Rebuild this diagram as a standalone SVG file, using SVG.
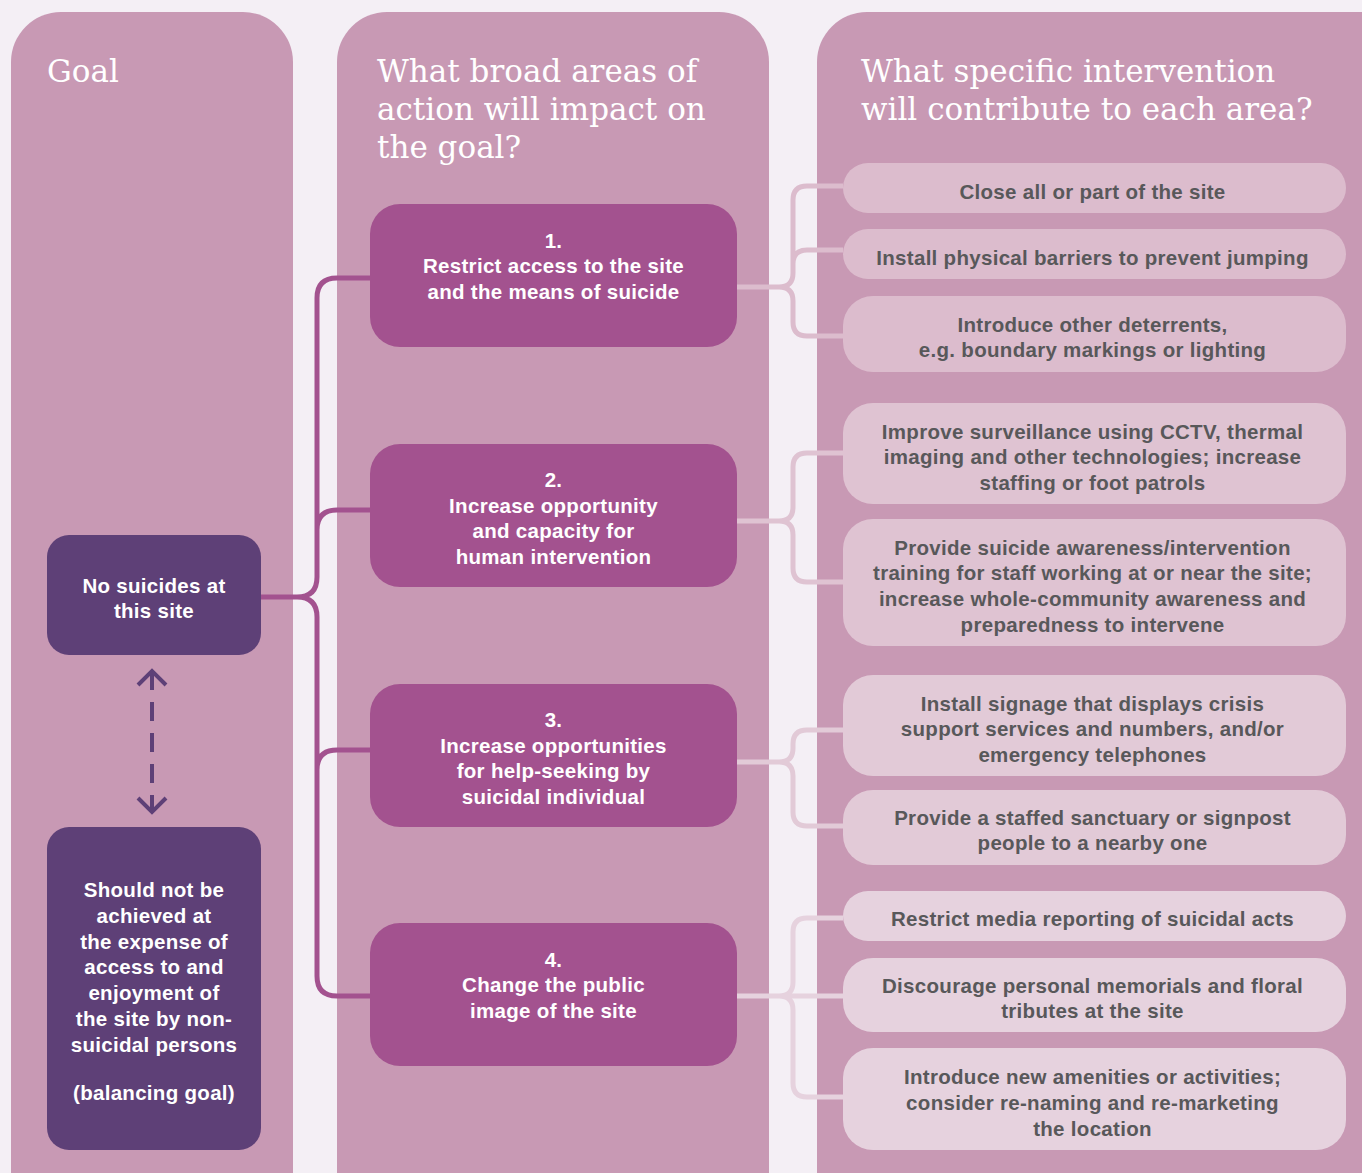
<svg xmlns="http://www.w3.org/2000/svg" width="1362" height="1173" viewBox="0 0 1362 1173">
<style>
.col{fill:#c899b4}
.hdr{font-family:"DejaVu Serif","Liberation Serif",serif;font-size:31px;fill:#ffffff}
.t{font-family:"Liberation Sans",Arial,sans-serif;font-weight:bold;font-size:20.5px;letter-spacing:0.3px;text-anchor:middle}
.w{fill:#ffffff}
.g{fill:#58585a}
.goal{fill:#5e4077}
.area{fill:#a3528f}
.i1{fill:#dcbccd}
.i2{fill:#dfc3d2}
.i3{fill:#e2cad7}
.i4{fill:#e6d2de}
.lc{fill:none;stroke:#a3528f;stroke-width:5}
.rc{fill:none;stroke-width:5}
</style>
<defs>
<marker id="chev" viewBox="-20 -20 24 40" markerWidth="24" markerHeight="40" refX="0" refY="0" orient="auto-start-reverse" markerUnits="userSpaceOnUse">
<path d="M-14,-14 L0,0 L-14,14" fill="none" stroke="#5e4077" stroke-width="4"/>
</marker>
</defs>
<rect width="1362" height="1173" fill="#f4eff5"/>
<g id="columns">
<rect class="col" x="11" y="12" width="282" height="1250" rx="50"/>
<rect class="col" x="337" y="12" width="432" height="1250" rx="50"/>
<rect class="col" x="817" y="12" width="600" height="1250" rx="50"/>
<text class="hdr" x="47" y="82">Goal</text>
<text class="hdr" x="377" y="82">What broad areas of</text>
<text class="hdr" x="377" y="120">action will impact on</text>
<text class="hdr" x="377" y="158">the goal?</text>
<text class="hdr" x="861" y="82">What specific intervention</text>
<text class="hdr" x="861" y="120">will contribute to each area?</text>
</g>
<g id="connectors">
<path class="lc" d="M261,597 H297 Q317,597 317,577 V298 Q317,278 337,278 H370 M297,597 Q317,597 317,617 V976 Q317,996 337,996 H370 M317,530 Q317,510 337,510 H370 M317,770 Q317,750 337,750 H370"/>
<path class="rc" stroke="#dcbccd" d="M737,287 H779 Q793,287 793,273 V200 Q793,186 807,186 H843 M779,287 Q793,287 793,301 V322 Q793,336 807,336 H843 M793,264 Q793,250 807,250 H843"/>
<path class="rc" stroke="#dfc3d2" d="M737,521 H779 Q793,521 793,507 V467 Q793,453 807,453 H843 M779,521 Q793,521 793,535 V568 Q793,582 807,582 H843"/>
<path class="rc" stroke="#e2cad7" d="M737,762 H779 Q793,762 793,748 V744 Q793,730 807,730 H843 M779,762 Q793,762 793,776 V812 Q793,826 807,826 H843"/>
<path class="rc" stroke="#e6d2de" d="M737,996 H843 M779,996 Q793,996 793,982 V932 Q793,918 807,918 H843 M779,996 Q793,996 793,1010 V1083 Q793,1097 807,1097 H843"/>
<line x1="152" y1="671" x2="152" y2="812" stroke="#5e4077" stroke-width="4" stroke-dasharray="19 12" marker-start="url(#chev)" marker-end="url(#chev)"/>
</g>
<g id="goal-main">
<rect class="goal" x="47" y="535" width="214" height="120" rx="22"/>
<text class="t w" x="154" y="593">No suicides at</text>
<text class="t w" x="154" y="618">this site</text>
</g>
<g id="goal-balancing">
<rect class="goal" x="47" y="827" width="214" height="323" rx="22"/>
<text class="t w" x="154" y="897">Should not be</text>
<text class="t w" x="154" y="923">achieved at</text>
<text class="t w" x="154" y="949">the expense of</text>
<text class="t w" x="154" y="974">access to and</text>
<text class="t w" x="154" y="1000">enjoyment of</text>
<text class="t w" x="154" y="1026">the site by non-</text>
<text class="t w" x="154" y="1052">suicidal persons</text>
<text class="t w" x="154" y="1100">(balancing goal)</text>
</g>
<g id="area-1">
<rect class="area" x="370" y="204" width="367" height="143" rx="30"/>
<text class="t w" x="553.5" y="248">1.</text>
<text class="t w" x="553.5" y="273">Restrict access to the site</text>
<text class="t w" x="553.5" y="299">and the means of suicide</text>
</g>
<g id="area-2">
<rect class="area" x="370" y="444" width="367" height="143" rx="30"/>
<text class="t w" x="553.5" y="487">2.</text>
<text class="t w" x="553.5" y="513">Increase opportunity</text>
<text class="t w" x="553.5" y="538">and capacity for</text>
<text class="t w" x="553.5" y="564">human intervention</text>
</g>
<g id="area-3">
<rect class="area" x="370" y="684" width="367" height="143" rx="30"/>
<text class="t w" x="553.5" y="727">3.</text>
<text class="t w" x="553.5" y="753">Increase opportunities</text>
<text class="t w" x="553.5" y="778">for help-seeking by</text>
<text class="t w" x="553.5" y="804">suicidal individual</text>
</g>
<g id="area-4">
<rect class="area" x="370" y="923" width="367" height="143" rx="30"/>
<text class="t w" x="553.5" y="967">4.</text>
<text class="t w" x="553.5" y="992">Change the public</text>
<text class="t w" x="553.5" y="1018">image of the site</text>
</g>
<g id="int-1a">
<rect class="i1" x="843" y="163" width="503" height="50" rx="25"/>
<text class="t g" x="1092.5" y="199">Close all or part of the site</text>
</g>
<g id="int-1b">
<rect class="i1" x="843" y="229" width="503" height="50" rx="25"/>
<text class="t g" x="1092.5" y="265">Install physical barriers to prevent jumping</text>
</g>
<g id="int-1c">
<rect class="i1" x="843" y="296" width="503" height="76" rx="30"/>
<text class="t g" x="1092.5" y="332">Introduce other deterrents,</text>
<text class="t g" x="1092.5" y="357">e.g. boundary markings or lighting</text>
</g>
<g id="int-2a">
<rect class="i2" x="843" y="403" width="503" height="101" rx="30"/>
<text class="t g" x="1092.5" y="439">Improve surveillance using CCTV, thermal</text>
<text class="t g" x="1092.5" y="464">imaging and other technologies; increase</text>
<text class="t g" x="1092.5" y="490">staffing or foot patrols</text>
</g>
<g id="int-2b">
<rect class="i2" x="843" y="519" width="503" height="127" rx="30"/>
<text class="t g" x="1092.5" y="555">Provide suicide awareness/intervention</text>
<text class="t g" x="1092.5" y="580">training for staff working at or near the site;</text>
<text class="t g" x="1092.5" y="606">increase whole-community awareness and</text>
<text class="t g" x="1092.5" y="632">preparedness to intervene</text>
</g>
<g id="int-3a">
<rect class="i3" x="843" y="675" width="503" height="101" rx="30"/>
<text class="t g" x="1092.5" y="711">Install signage that displays crisis</text>
<text class="t g" x="1092.5" y="736">support services and numbers, and/or</text>
<text class="t g" x="1092.5" y="762">emergency telephones</text>
</g>
<g id="int-3b">
<rect class="i3" x="843" y="790" width="503" height="75" rx="30"/>
<text class="t g" x="1092.5" y="825">Provide a staffed sanctuary or signpost</text>
<text class="t g" x="1092.5" y="850">people to a nearby one</text>
</g>
<g id="int-4a">
<rect class="i4" x="843" y="891" width="503" height="50" rx="25"/>
<text class="t g" x="1092.5" y="926">Restrict media reporting of suicidal acts</text>
</g>
<g id="int-4b">
<rect class="i4" x="843" y="958" width="503" height="74" rx="30"/>
<text class="t g" x="1092.5" y="993">Discourage personal memorials and floral</text>
<text class="t g" x="1092.5" y="1018">tributes at the site</text>
</g>
<g id="int-4c">
<rect class="i4" x="843" y="1048" width="503" height="102" rx="30"/>
<text class="t g" x="1092.5" y="1084">Introduce new amenities or activities;</text>
<text class="t g" x="1092.5" y="1110">consider re-naming and re-marketing</text>
<text class="t g" x="1092.5" y="1136">the location</text>
</g>
</svg>
